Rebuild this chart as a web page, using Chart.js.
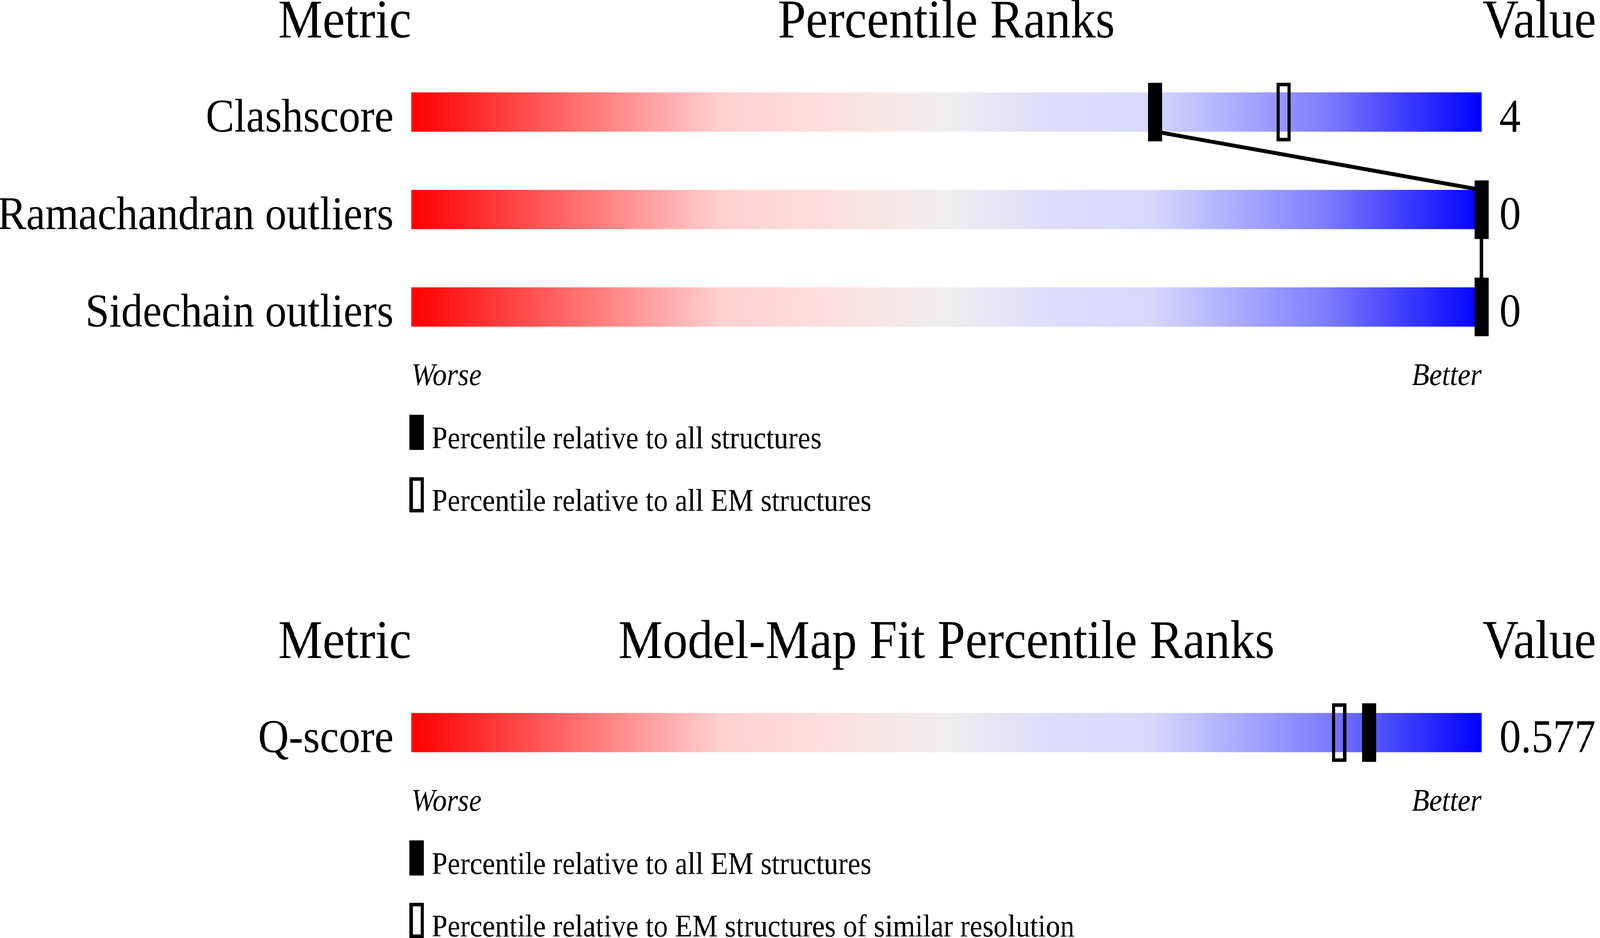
<!DOCTYPE html>
<html>
<head>
<meta charset="utf-8">
<script src="https://cdn.jsdelivr.net/npm/chart.js@4.4.1/dist/chart.umd.min.js"></script>
<style>
  html, body { margin: 0; padding: 0; background: #ffffff; overflow: hidden; }
  #wrap { position: absolute; left: 0; top: 0; width: 4485px; height: 2402px; overflow: hidden; background: #ffffff; transform-origin: 0 0; }
  #wrap canvas { position: absolute; left: 0; top: 0; }
</style>
</head>
<body>
<div id="wrap">
  <canvas id="geo" width="4485" height="2402" style="width:4485px;height:2402px"></canvas>
  <canvas id="fit" width="4485" height="2402" style="width:4485px;height:2402px"></canvas>
</div>
<script>
// ---------------- data ----------------
const geoTitle = 'Percentile Ranks';
const geoMetrics = ['Clashscore', 'Ramachandran outliers', 'Sidechain outliers'];
const geoValues = ['4', '0', '0'];
const geoPctAll = [69.5, 100, 100];          // percentile relative to all structures
const geoPctEM = [81.5, null, null];         // percentile relative to all EM structures
const geoLegend = ['Percentile relative to all structures', 'Percentile relative to all EM structures'];

const fitTitle = 'Model-Map Fit Percentile Ranks';
const fitMetrics = ['Q-score'];
const fitValues = ['0.577'];
const fitPctAllEM = [89.5];                  // percentile relative to all EM structures
const fitPctSimRes = [86.7];                 // percentile relative to EM structures of similar resolution
const fitLegend = ['Percentile relative to all EM structures', 'Percentile relative to EM structures of similar resolution'];

const headerLeft = 'Metric';
const headerRight = 'Value';
const worseLabel = 'Worse';
const betterLabel = 'Better';

// ---------------- page fit ----------------
const DESIGN_W = 4485, DESIGN_H = 2402;
const sx = (window.innerWidth || DESIGN_W) / DESIGN_W;
const sy = (window.innerHeight || DESIGN_H) / DESIGN_H;
document.getElementById('wrap').style.transform = 'scale(' + sx + ',' + sy + ')';
const renderDPR = Math.max(1, (window.devicePixelRatio || 1) * Math.max(sx, sy));

// ---------------- styling ----------------
const FONT = '"Liberation Serif", "Times New Roman", serif';
const gradientStops = [
  [0.00, '#ff0000'],
  [0.29, '#ffd0d0'],
  [0.40, '#fde0e0'],
  [0.50, '#eeeeee'],
  [0.60, '#dddcfc'],
  [0.69, '#d8d8fc'],
  [0.85, '#8080ff'],
  [1.00, '#0000ff']
];

function markerCanvas(w, h, filled, lw) {
  const c = document.createElement('canvas');
  c.width = w; c.height = h;
  const g = c.getContext('2d');
  g.fillStyle = '#000';
  g.strokeStyle = '#000';
  if (filled) {
    g.fillRect(0, 0, w, h);
  } else {
    g.lineWidth = lw;
    g.strokeRect(lw / 2, lw / 2, w - lw, h - lw);
  }
  return c;
}
const filledMarker = markerCanvas(40, 150, true, 0);
const openMarker = markerCanvas(40, 150, false, 9);

function trackGradient(context) {
  const chart = context.chart;
  const xs = chart.scales.x;
  if (!chart.chartArea || !xs) return '#eeeeee';
  const x0 = xs.getPixelForValue(0), x1 = xs.getPixelForValue(100);
  const g = chart.ctx.createLinearGradient(x0, 0, x1, 0);
  gradientStops.forEach(s => g.addColorStop(s[0], s[1]));
  return g;
}

// connector between the "all" markers of consecutive rows
const connectorPlugin = {
  id: 'connector',
  afterDatasetDraw(chart, args, opts) {
    if (!opts || !opts.values || args.index !== 0) return;
    const bars = chart.getDatasetMeta(0).data;
    const xs = chart.scales.x;
    const ctx = chart.ctx;
    const v = opts.values;
    ctx.save();
    ctx.strokeStyle = '#000';
    ctx.lineWidth = 10;
    ctx.lineJoin = 'round';
    ctx.beginPath();
    let started = false;
    for (let i = 0; i < v.length; i++) {
      if (v[i] == null) continue;
      const b = bars[i];
      const half = b.height / 2;
      const x = xs.getPixelForValue(v[i]);
      if (i > 0) {
        if (!started) { ctx.moveTo(x, b.y - half); started = true; }
        else ctx.lineTo(x, b.y - half);
      }
      if (i < v.length - 1) {
        if (!started) { ctx.moveTo(x, b.y + half); started = true; }
        else ctx.lineTo(x, b.y + half);
      }
    }
    ctx.stroke();
    ctx.restore();
  }
};

// text: headers, row labels, values, worse/better and legend
const textPlugin = {
  id: 'texts',
  afterDraw(chart, args, o) {
    if (!o || !o.metrics) return;
    const ctx = chart.ctx;
    const xs = chart.scales.x;
    const bars = chart.getDatasetMeta(0).data;
    const x0 = xs.getPixelForValue(0), x1 = xs.getPixelForValue(100);
    const first = bars[0], last = bars[bars.length - 1];
    const topY = first.y - first.height / 2;
    const bottomY = last.y + last.height / 2;
    ctx.save();
    ctx.fillStyle = '#000';
    ctx.textBaseline = 'alphabetic';
    // headers
    ctx.font = '140px ' + FONT;
    const hy = topY - 141;
    ctx.textAlign = 'right'; ctx.fillText(headerLeft, x0, hy);
    ctx.textAlign = 'center'; ctx.fillText(o.title, (x0 + x1) / 2, hy);
    ctx.textAlign = 'left'; ctx.fillText(headerRight, x1 + 3, hy);
    // rows
    ctx.font = '120px ' + FONT;
    bars.forEach((b, i) => {
      const by = b.y + b.height / 2;
      ctx.textAlign = 'right'; ctx.fillText(o.metrics[i], x0 - 50, by);
      ctx.textAlign = 'left'; ctx.fillText(o.values[i], x1 + 50, by);
    });
    // worse / better
    ctx.font = 'italic 80px ' + FONT;
    const wy = bottomY + 150;
    ctx.textAlign = 'left'; ctx.fillText(worseLabel, x0, wy);
    ctx.textAlign = 'right'; ctx.fillText(betterLabel, x1, wy);
    // legend
    ctx.font = '80px ' + FONT;
    ctx.textAlign = 'left';
    o.legend.forEach((t, k) => {
      const ry = bottomY + 226 + k * 160;
      const rx = x0 - 5;
      if (k === 0) {
        ctx.fillRect(rx, ry, 40, 90);
      } else {
        ctx.lineWidth = 9;
        ctx.strokeStyle = '#000';
        ctx.strokeRect(rx + 4.5, ry + 4.5, 31, 81);
      }
      ctx.fillText(t, x0 + 57, ry + 86);
    });
    ctx.restore();
  }
};

function makeChart(canvasId, labels, allVals, otherVals, padTop, padBottom, textOpts, connect) {
  return new Chart(document.getElementById(canvasId), {
    type: 'bar',
    data: {
      labels: labels,
      datasets: [
        {
          type: 'bar',
          data: labels.map(() => [0, 100]),
          backgroundColor: trackGradient,
          borderWidth: 0,
          barThickness: 100,
          order: 3,
          indexAxis: 'y'
        },
        {
          type: 'line',
          data: otherVals,
          showLine: false,
          pointStyle: openMarker,
          pointRadius: 40,
          clip: false,
          order: 1,
          indexAxis: 'y'
        },
        {
          type: 'line',
          data: allVals,
          showLine: false,
          pointStyle: filledMarker,
          pointRadius: 40,
          clip: false,
          order: 0,
          indexAxis: 'y'
        }
      ]
    },
    options: {
      indexAxis: 'y',
      responsive: false,
      maintainAspectRatio: false,
      animation: false,
      devicePixelRatio: renderDPR,
      events: [],
      layout: { padding: { left: 1153, right: 332, top: padTop, bottom: padBottom } },
      scales: {
        x: { type: 'linear', min: 0, max: 100, display: false },
        y: { type: 'category', display: false, offset: true }
      },
      plugins: {
        legend: { display: false },
        tooltip: { enabled: false },
        title: { display: false },
        connector: connect ? { values: allVals } : false,
        texts: textOpts
      }
    },
    plugins: [connectorPlugin, textPlugin]
  });
}

makeChart('geo', geoMetrics, geoPctAll, geoPctEM, 162, DESIGN_H - 911,
  { title: geoTitle, metrics: geoMetrics, values: geoValues, legend: geoLegend }, true);
makeChart('fit', fitMetrics, fitPctAllEM, fitPctSimRes, 1751, DESIGN_H - 2001,
  { title: fitTitle, metrics: fitMetrics, values: fitValues, legend: fitLegend }, false);
</script>
</body>
</html>
